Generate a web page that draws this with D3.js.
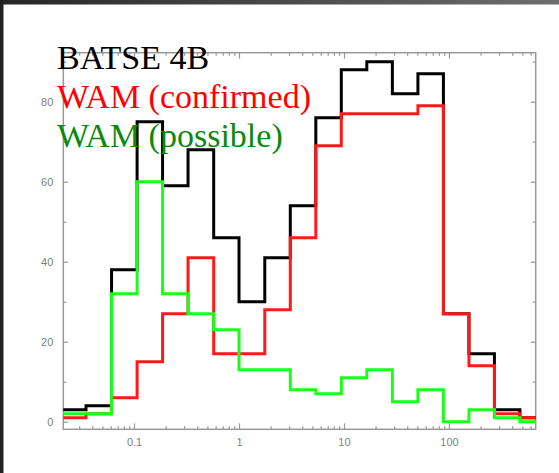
<!DOCTYPE html>
<html><head><meta charset="utf-8">
<script src="https://cdn.jsdelivr.net/npm/d3@7"></script>
<style>html,body{margin:0;padding:0;background:#fff;overflow:hidden}</style>
</head><body>
<svg id="c" width="559" height="473"></svg>
<script>
// ---- data ----
const binEdges = [0.0200, 0.0349, 0.0611, 0.107, 0.187, 0.327, 0.574, 1.00, 1.76, 3.08, 5.39, 9.43, 16.5, 28.9, 50.6, 88.5, 155, 271, 474, 830];
const batse4B      = [3, 4, 38, 75, 59, 68, 46, 30, 41, 54, 76, 88, 90, 82, 87, 27, 17, 3, 1];
const wamConfirmed = [1, 2, 6, 15, 27, 41, 17, 17, 28, 46, 69, 77, 77, 77, 79, 27, 14, 2, 1];
const wamPossible  = [2, 2, 32, 60, 32, 27, 23, 13, 13, 8, 7, 11, 13, 5, 8, 0, 3, 1, 0];
const seriesNames = ["BATSE 4B", "WAM (confirmed)", "WAM (possible)"];
const xMajorTicks = [0.1, 1, 10, 100];
const xTickLabels = ["0.1", "1", "10", "100"];
const yMajorTicks = [0, 20, 40, 60, 80];
const yMinorTicks = [10, 30, 50, 70, 90];

// ---- layout ----
const svg = d3.select("#c");
const L = 63.3, R = 535.7, T = 52.7, B = 429.3;
const x = d3.scaleLog().domain([0.0212, 670]).range([L, R]);
const y = d3.scaleLinear().domain([-1.9, 92.25]).range([B, T]);

// frame decoration
const defs = svg.append("defs");
const g1 = defs.append("linearGradient").attr("id", "topg").attr("x1", 0).attr("x2", 1).attr("y1", 0).attr("y2", 0);
g1.append("stop").attr("offset", 0).attr("stop-color", "#262626");
g1.append("stop").attr("offset", 1).attr("stop-color", "#6e6e6e");
svg.append("rect").attr("x", 0).attr("y", 0).attr("width", 559).attr("height", 4.5).attr("fill", "url(#topg)");
svg.append("rect").attr("x", 0).attr("y", 0).attr("width", 3.5).attr("height", 473).attr("fill", "#222");

defs.append("clipPath").attr("id", "clip").append("rect")
  .attr("x", L).attr("y", T).attr("width", R - L).attr("height", B - T);

// minor x ticks
const xMinor = [];
for (let e = -2; e <= 2; e++) for (let m = 2; m <= 9; m++) {
  const v = m * Math.pow(10, e);
  if (v > x.domain()[0] && v < x.domain()[1]) xMinor.push(v);
}

const axisColor = "#999";
function styleAxis(g) {
  g.select(".domain").remove();
  g.selectAll("line").attr("stroke", axisColor).attr("stroke-width", 1.2);
  g.selectAll("text").attr("fill", "#808080").style("font-family", "Liberation Sans, Arial, sans-serif").style("font-size", "11px");
}

// bottom axis
svg.append("g").attr("transform", `translate(0,${B})`)
  .call(d3.axisBottom(x).tickValues(xMajorTicks).tickSize(-6).tickPadding(9)
    .tickFormat((d, i) => xTickLabels[i]))
  .call(styleAxis);
svg.append("g").attr("transform", `translate(0,${B})`)
  .call(d3.axisBottom(x).tickValues(xMinor).tickSize(-3).tickFormat(""))
  .call(styleAxis);
// top axis
svg.append("g").attr("transform", `translate(0,${T})`)
  .call(d3.axisTop(x).tickValues(xMajorTicks).tickSize(-6).tickFormat(""))
  .call(styleAxis);
svg.append("g").attr("transform", `translate(0,${T})`)
  .call(d3.axisTop(x).tickValues(xMinor).tickSize(-3).tickFormat(""))
  .call(styleAxis);
// left axis
svg.append("g").attr("transform", `translate(${L},0)`)
  .call(d3.axisLeft(y).tickValues(yMajorTicks).tickSize(-5).tickPadding(10).tickFormat(d3.format("d")))
  .call(styleAxis);
svg.append("g").attr("transform", `translate(${L},0)`)
  .call(d3.axisLeft(y).tickValues(yMinorTicks).tickSize(-3).tickFormat(""))
  .call(styleAxis);
// right axis
svg.append("g").attr("transform", `translate(${R},0)`)
  .call(d3.axisRight(y).tickValues(yMajorTicks).tickSize(-5).tickFormat(""))
  .call(styleAxis);
svg.append("g").attr("transform", `translate(${R},0)`)
  .call(d3.axisRight(y).tickValues(yMinorTicks).tickSize(-3).tickFormat(""))
  .call(styleAxis);

// frame
svg.append("rect").attr("x", L).attr("y", T).attr("width", R - L).attr("height", B - T)
  .attr("fill", "none").attr("stroke", axisColor).attr("stroke-width", 1.5);

// histograms
const line = d3.line().x(d => x(d[0])).y(d => y(d[1])).curve(d3.curveStepAfter);
function pts(vals) {
  const p = vals.map((v, i) => [binEdges[i], v]);
  p.push([binEdges[vals.length], vals[vals.length - 1]]);
  return p;
}
const series = [
  {vals: batse4B, color: "#000000"},
  {vals: wamConfirmed, color: "#ff1a1a"},
  {vals: wamPossible, color: "#1aff1a"}
];
const hg = svg.append("g").attr("clip-path", "url(#clip)");
series.forEach(s => {
  hg.append("path").attr("d", line(pts(s.vals))).attr("fill", "none")
    .attr("stroke", s.color).attr("stroke-width", 3).attr("stroke-linejoin", "miter");
});

// legend
const legendColors = ["#000000", "#ff0000", "#0a8a0a"];
svg.append("g").selectAll("text").data(seriesNames).join("text")
  .attr("x", 57).attr("y", (d, i) => 69 + i * 39)
  .attr("fill", (d, i) => legendColors[i])
  .style("font-family", "Liberation Serif, Times New Roman, serif")
  .style("font-size", "34px")
  .text(d => d);
</script>
</body></html>
